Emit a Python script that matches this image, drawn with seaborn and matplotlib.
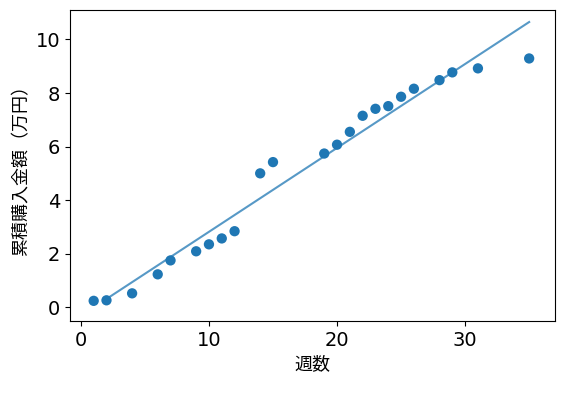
import numpy as np
import pandas as pd
import matplotlib
matplotlib.use("Agg")
import matplotlib.pyplot as plt
import seaborn as sns

weeks = [1, 2, 4, 6, 7, 9, 10, 11, 12, 14, 15, 19, 20, 21, 22, 23, 24, 25, 26, 28, 29, 31, 35]
amount = [0.24, 0.26, 0.52, 1.23, 1.75, 2.09, 2.35, 2.57, 2.84, 5.0, 5.42, 5.74, 6.07,
          6.55, 7.15, 7.41, 7.51, 7.86, 8.16, 8.48, 8.77, 8.92, 9.29]

df = pd.DataFrame({"week": weeks, "amount": amount})

plt.rcParams['font.family'] = ['DejaVu Sans', 'Noto Sans CJK JP']
jp = ['Noto Sans CJK JP', 'DejaVu Sans']

fig, ax = plt.subplots(figsize=(5.69, 3.99), dpi=100)
sns.scatterplot(data=df, x="week", y="amount", s=55, color="#1f77b4", edgecolor="none", ax=ax)

# linear fit, drawn from the 2nd week to the last one
coef = np.polyfit(df["week"], df["amount"], 1)
xs = np.array([df["week"].iloc[1], df["week"].max()])
sns.lineplot(x=xs, y=np.polyval(coef, xs), color="#1f77b4", alpha=0.75, lw=1.5, ax=ax)

ax.set_xlim(-0.85, 37.0)
ax.set_ylim(-0.52, 11.1)
ax.set_xticks([0, 10, 20, 30])
ax.set_yticks([0, 2, 4, 6, 8, 10])
ax.tick_params(labelsize=14)
ax.set_xlabel("週数", fontsize=13, family=jp)
ax.set_ylabel("累積購入金額（万円）", fontsize=13, family=jp)

plt.subplots_adjust(left=0.123, right=0.975, top=0.975, bottom=0.195)
plt.savefig("out.png", dpi=100)
